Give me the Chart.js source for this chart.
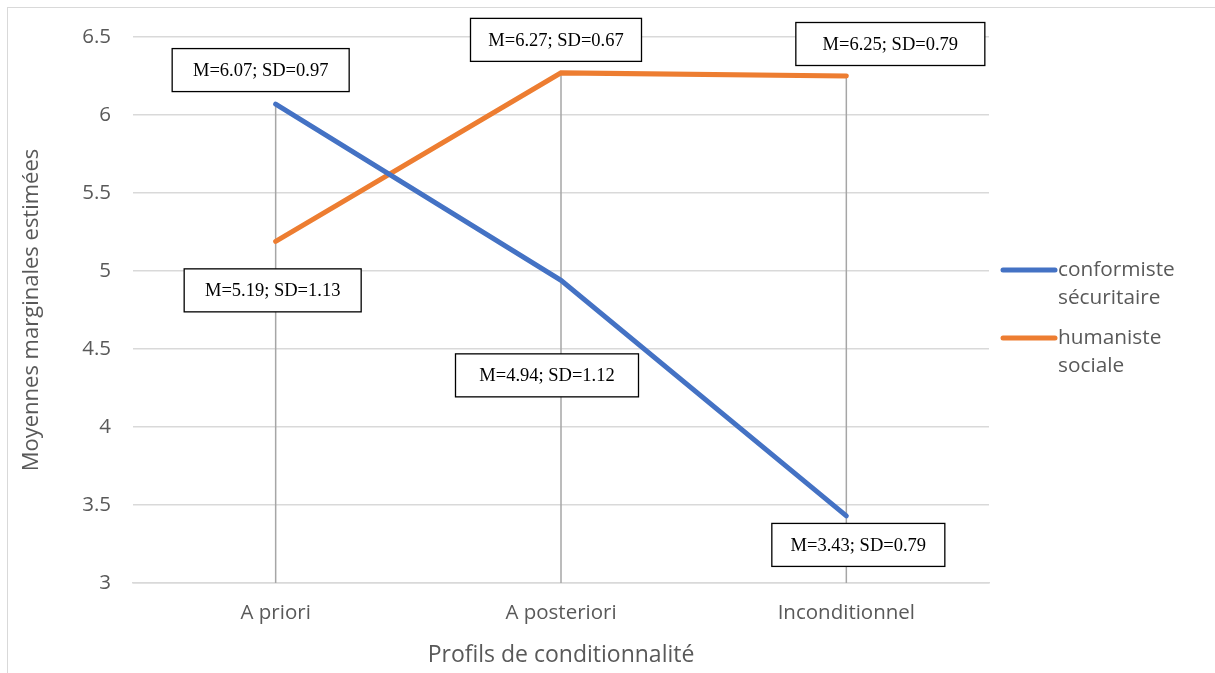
<!DOCTYPE html>
<html><head><meta charset="utf-8">
<script src="https://cdn.jsdelivr.net/npm/chart.js@4.4.1/dist/chart.umd.min.js"></script>
<style>
html,body{margin:0;padding:0;background:#fff;}
#wrap{position:absolute;left:0;top:0;width:1215px;height:673px;overflow:hidden;}
#frame{position:absolute;left:7px;top:7px;width:1220px;height:680px;border:1.5px solid #d9d9d9;box-sizing:border-box;}
canvas{position:absolute;left:0;top:0;}
</style></head>
<body>
<div id="wrap"><div id="frame"></div><canvas id="c" width="1215" height="673"></canvas></div>
<script>
const categories = ["A priori", "A posteriori", "Inconditionnel"];
const conformisteValues = [6.07, 4.94, 3.43];
const humanisteValues = [5.19, 6.27, 6.25];
const conformisteSD = [0.97, 1.12, 0.79];
const humanisteSD = [1.13, 0.67, 0.79];
const seriesNames = [["conformiste", "sécuritaire"], ["humaniste", "sociale"]];

// label box placement (style only): dx, dy offset from point, box width
const labelLayout = [
  [{dx:-15, dy:-34, w:177}, {dx:-14, dy:95, w:183}, {dx:12, dy:29, w:173}],
  [{dx:-3, dy:49, w:177}, {dx:-5, dy:-33, w:171}, {dx:44, dy:-32, w:189}]
];

const GRAY = '#595959';
const SANS = '"Open Sans", Lato, sans-serif';

const overlay = {
  id: 'overlay',
  beforeDatasetsDraw(chart) {
    const ctx = chart.ctx, x = chart.scales.x, y = chart.scales.y;
    ctx.save();
    ctx.strokeStyle = '#a6a6a6';
    ctx.lineWidth = 1.5;
    categories.forEach((c, i) => {
      const top = Math.max(...chart.data.datasets.map(d => d.data[i]));
      const px = x.getPixelForValue(i);
      ctx.beginPath();
      ctx.moveTo(px, y.getPixelForValue(top));
      ctx.lineTo(px, y.getPixelForValue(y.min));
      ctx.stroke();
    });
    ctx.restore();
  },
  afterDatasetsDraw(chart) {
    const ctx = chart.ctx, x = chart.scales.x, y = chart.scales.y;
    const sds = [conformisteSD, humanisteSD];
    ctx.save();
    ctx.font = '18.5px "Liberation Serif", "Times New Roman", serif';
    ctx.textAlign = 'center';
    ctx.textBaseline = 'middle';
    chart.data.datasets.forEach((ds, di) => {
      ds.data.forEach((v, i) => {
        const L = labelLayout[di][i];
        const cx = x.getPixelForValue(i) + L.dx;
        const cy = y.getPixelForValue(v) + L.dy;
        const h = 43;
        ctx.fillStyle = '#fff';
        ctx.fillRect(cx - L.w/2, cy - h/2, L.w, h);
        ctx.strokeStyle = '#000';
        ctx.lineWidth = 1.3;
        ctx.strokeRect(cx - L.w/2, cy - h/2, L.w, h);
        ctx.fillStyle = '#000';
        ctx.fillText('M=' + v.toFixed(2) + '; SD=' + sds[di][i].toFixed(2), cx, cy + 1);
      });
    });
    // legend
    ctx.font = '20.8px ' + SANS;
    ctx.textAlign = 'left';
    ctx.textBaseline = 'middle';
    const legendY = [270, 338];
    chart.data.datasets.forEach((ds, di) => {
      const ly = legendY[di];
      ctx.strokeStyle = ds.borderColor;
      ctx.lineWidth = 5;
      ctx.lineCap = 'round';
      ctx.beginPath();
      ctx.moveTo(1003, ly);
      ctx.lineTo(1055, ly);
      ctx.stroke();
      ctx.fillStyle = GRAY;
      seriesNames[di].forEach((t, k) => ctx.fillText(t, 1058, ly + k * 28));
    });
    ctx.restore();
  }
};

new Chart(document.getElementById('c'), {
  type: 'line',
  data: {
    labels: categories,
    datasets: [
      { label: seriesNames[0].join(' '), data: conformisteValues, borderColor: '#4472C4', backgroundColor: '#4472C4', borderWidth: 5, pointRadius: 0, borderCapStyle: 'round', tension: 0 },
      { label: seriesNames[1].join(' '), data: humanisteValues, borderColor: '#ED7D31', backgroundColor: '#ED7D31', borderWidth: 5, pointRadius: 0, borderCapStyle: 'round', tension: 0 }
    ]
  },
  options: {
    responsive: false,
    animation: false,
    layout: { padding: { left: 0, top: 37, right: 226, bottom: 0 } },
    plugins: { legend: { display: false }, tooltip: { enabled: false } },
    scales: {
      x: {
        offset: true,
        grid: { display: false, drawTicks: false },
        border: { display: true, color: '#d9d9d9', width: 1.5 },
        ticks: { color: GRAY, font: { family: SANS, size: 20.5 }, padding: 18 },
        title: { display: true, text: 'Profils de conditionnalité', color: GRAY, font: { family: SANS, size: 23 }, padding: { top: 4, bottom: 4 } },
        afterFit(s) { s.height = 90; }
      },
      y: {
        min: 3, max: 6.5,
        ticks: { stepSize: 0.5, color: GRAY, font: { family: SANS, size: 20.5 }, padding: 22, callback: v => String(v) },
        grid: { color: '#d9d9d9', lineWidth: 1.5, drawTicks: false },
        border: { display: false },
        title: { display: true, text: 'Moyennes marginales estimées', color: GRAY, font: { family: SANS, size: 22 }, padding: { top: 19, bottom: 0 } },
        afterFit(s) { s.width = 133; }
      }
    }
  },
  plugins: [overlay]
});
</script>
</body></html>
